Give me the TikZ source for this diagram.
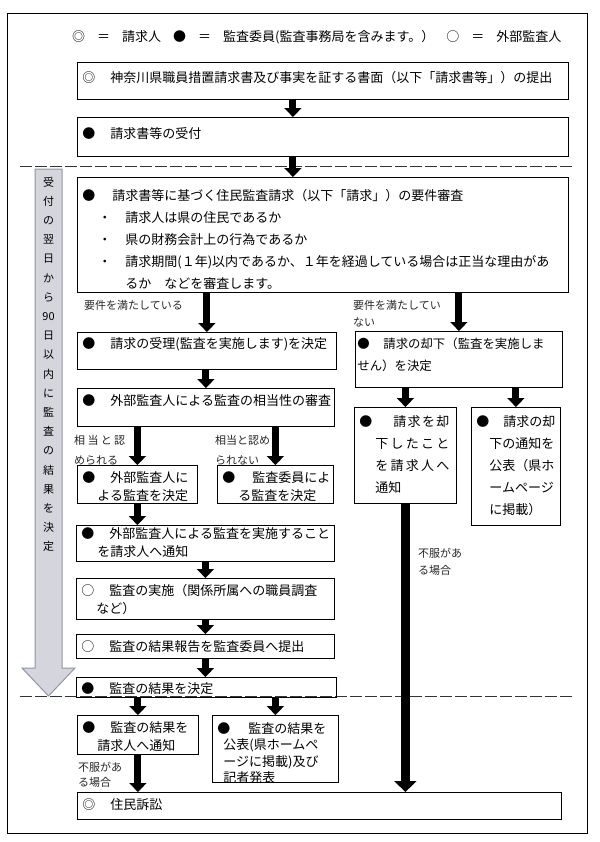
\documentclass[tikz,border=0pt]{standalone}
\usepackage{fontspec}
\setmainfont{Noto Sans CJK JP}
\usetikzlibrary{arrows.meta}
\definecolor{sidefill}{RGB}{212,214,219}
\definecolor{sideline}{RGB}{140,150,168}
\newcommand\leadmark[2][28bp]{\makebox[#1][l]{#2}}
\newcommand\boxfont{\fontsize{13bp}{18bp}\selectfont}
\newcommand\widefont{\fontsize{13bp}{22bp}\selectfont}
\newcommand\notefont{\fontsize{11bp}{17bp}\selectfont}
\newcommand\keygap{\hspace{12bp}}

\begin{document}
\begin{tikzpicture}[x=1bp,y=-1bp,
	box/.code n args={3}{\pgfmathsetlengthmacro\boxtw{(#1-10)*1bp}\pgfmathsetlengthmacro\boxth{#3*1bp}\pgfmathsetlengthmacro\boxtd{(#2-#3)*1bp}\tikzset{draw,line width=0.8bp,anchor=north west,inner xsep=5bp,inner ysep=0pt,text width=\boxtw,text height=\boxth,text depth=\boxtd,align=left,font=\boxfont}},
	note/.style={anchor=base west,inner sep=0pt,align=left,text width=#1,font=\notefont,text=black!85},
	flow/.style={line width=7bp,-{Triangle[width=17bp,length=9bp]}},
	longflow/.style={line width=9bp,-{Triangle[width=22bp,length=11bp]}},
	divider/.style={line width=0.6bp,black!80,dash pattern=on 12bp off 3bp},
	sidearrow/.style={fill=sidefill,draw=sideline,line width=1bp},
	period/.style={anchor=base,inner sep=0pt,align=center,text width=20bp,font=\fontsize{11bp}{19.2bp}\selectfont}]
		\useasboundingbox (0,0) rectangle (600,842);
		\draw[line width=0.8bp] (7,13) rectangle (587,833);
		% key to the marks
		\node[anchor=base west,inner sep=0pt,font=\boxfont] (key) at (72,41.5) {◎\keygap ＝\keygap 請求人\keygap ●\keygap ＝\keygap 監査委員(監査事務局を含みます。）\keygap ○\keygap ＝\keygap 外部監査人};
		% time limit
		\draw[sidearrow] (35,169) -- (62,169) -- (62,668) -- (75,668) -- (48.5,696) -- (22,668) -- (35,668) -- cycle;
		\node[period] (period) at (48.5,186) {受\\付\\の\\翌\\日\\か\\ら\\90\\日\\以\\内\\に\\監\\査\\の\\結\\果\\を\\決\\定};
		\draw[divider] (20,166) -- (575,166);
		\draw[divider] (20,696) -- (575,696);
		% steps
		\node[box={491}{37}{20}] (submit) at (77,62) {\leadmark{◎}神奈川県職員措置請求書及び事実を証する書面（以下「請求書等」）の提出};
		\node[box={491}{39}{21}] (receive) at (77,117) {\leadmark{●}請求書等の受付};
		\node[box={491}{115}{23},font=\widefont] (check) at (77,177) {\leadmark[30bp]{●}請求書等に基づく住民監査請求（以下「請求」）の要件審査\\
			\hspace*{16bp}\leadmark[27bp]{・}請求人は県の住民であるか\\
			\hspace*{16bp}\leadmark[27bp]{・}県の財務会計上の行為であるか\\
			\hspace*{16bp}\leadmark[27bp]{・}請求期間(１年)以内であるか、１年を経過している場合は正当な理由があ\\
			\hspace*{43bp}るか　などを審査します。};
		\node[box={259}{37}{16}] (accept) at (77,332) {\leadmark{●}請求の受理(監査を実施します)を決定};
		\node[box={257}{38}{17}] (review) at (77,388) {\leadmark{●}外部監査人による監査の相当性の審査};
		\node[box={120}{38}{17}] (external) at (77,465) {\leadmark{●}外部監査人に\\\hspace*{15bp}よる監査を決定};
		\node[box={116}{38}{17}] (committee) at (217,465) {\leadmark[30bp]{●}監査委員によ\\\hspace*{16bp}る監査を決定};
		\node[box={258}{36}{13}] (inform) at (76,525) {\leadmark{●}外部監査人による監査を実施すること\\\hspace*{16bp}を請求人へ通知};
		\node[box={258}{41}{17}] (audit) at (76,578) {\leadmark{○}監査の実施（関係所属への職員調査\\\hspace*{15bp}など）};
		\node[box={258}{24}{17}] (report) at (76,634) {\leadmark{○}監査の結果報告を監査委員へ提出};
		\node[box={260}{20}{16}] (decide) at (76,677) {\leadmark{●}監査の結果を決定};
		\node[box={121}{39}{17}] (notify) at (77,715) {\leadmark{●}監査の結果を\\\hspace*{15bp}請求人へ通知};
		\node[box={126}{67}{18},font=\fontsize{13bp}{16.5bp}\selectfont] (publish) at (212,715) {\leadmark[31bp]{●}監査の結果を\\\hspace*{6bp}公表(県ホームペ\\\hspace*{6bp}ージに掲載)及び\\\hspace*{6bp}記者発表};
		\node[box={484}{27}{17}] (suit) at (77,792) {\leadmark{◎}住民訴訟};
		\node[box={207}{56}{17},font=\fontsize{12.4bp}{22bp}\selectfont] (reject) at (355,331) {\hspace*{-3bp}\leadmark[26bp]{●}請求の却下（監査を実施しま\\\hspace*{-3bp}せん）を決定};
		\node[box={102}{96}{19},font=\widefont] (rejnotify) at (354,407) {\leadmark[34bp]{●}\makebox[56bp]{請\hfill 求\hfill を\hfill 却}\\
			\hspace*{16bp}\makebox[74bp]{下\hfill し\hfill た\hfill こ\hfill と}\\
			\hspace*{16bp}\makebox[74bp]{を\hfill 請\hfill 求\hfill 人\hfill へ}\\
			\hspace*{16bp}通知};
		\node[box={89}{118}{19},font=\widefont] (rejpublish) at (471,407) {\leadmark[27bp]{●}請求の却\\\hspace*{13bp}下の通知を\\\hspace*{13bp}公表（県ホ\\\hspace*{13bp}ームページ\\\hspace*{13bp}に掲載）};
		% conditions
		\node[note=110bp] (met) at (84,309) {要件を満たしている};
		\node[note=100bp] (unmet) at (353,309) {要件を満たしてい\\ない};
		\node[note=52bp,font=\fontsize{11bp}{20bp}\selectfont] (fit) at (74,444) {\makebox[51bp]{相\hfill 当\hfill と\hfill 認}\\められる};
		\node[note=60bp,font=\fontsize{11bp}{20bp}\selectfont] (unfit) at (215,444) {相当と認め\\られない};
		\node[note=50bp] (objectR) at (418,557) {不服があ\\る場合};
		\node[note=50bp,font=\fontsize{11bp}{15bp}\selectfont] (objectL) at (78,771) {不服があ\\る場合};
		% arrows
		\path[flow]
		([xshift=-30bp]submit.south) edge ([xshift=-30bp]receive.north)
		([xshift=-30bp]receive.south) edge ([xshift=-30bp]check.north)
		(check.south -| accept.north) edge (accept.north)
		(check.south -| reject.north) edge (reject.north)
		(accept.south -| review.north) edge (review.north)
		(review.south -| external.north) edge (external.north)
		(review.south -| committee.north) edge (committee.north)
		(external.south) edge (external.south |- inform.north)
		(inform.south) edge (audit.north)
		(audit.south) edge (report.north)
		(report.south) edge (report.south |- decide.north)
		(decide.south -| notify.north) edge (notify.north)
		(decide.south -| publish.north) edge (publish.north)
		(notify.south) edge (notify.south |- suit.north)
		(reject.south -| rejnotify.north) edge (rejnotify.north)
		(reject.south -| rejpublish.north) edge (rejpublish.north);
		\path[longflow] (rejnotify.south) edge (rejnotify.south |- suit.north);
		\end{tikzpicture}
\end{document}
